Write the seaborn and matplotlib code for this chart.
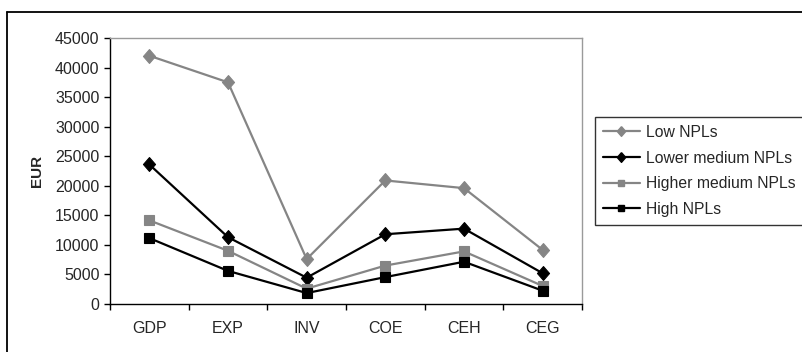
import matplotlib
matplotlib.use("Agg")
import matplotlib.pyplot as plt
from matplotlib.lines import Line2D
from matplotlib.ticker import FixedLocator, NullFormatter
import seaborn as sns
import pandas as pd

categories = ["GDP", "EXP", "INV", "COE", "CEH", "CEG"]
series_names = ["Low NPLs", "Lower medium NPLs", "Higher medium NPLs", "High NPLs"]
low_npls = [42000, 37500, 7600, 20900, 19600, 9150]
lower_medium_npls = [23600, 11300, 4450, 11800, 12750, 5200]
higher_medium_npls = [14150, 9000, 2600, 6500, 8900, 3050]
high_npls = [11150, 5600, 1850, 4550, 7150, 2250]
y_ticks = [0, 5000, 10000, 15000, 20000, 25000, 30000, 35000, 40000, 45000]

GRAY = "#858585"
BLACK = "#000000"
# slightly tall diamond outline
DIAMOND = [(0, 1.15), (1, 0), (0, -1.15), (-1, 0), (0, 1.15)]
colors = {series_names[0]: GRAY, series_names[1]: BLACK,
          series_names[2]: GRAY, series_names[3]: BLACK}
marker_map = {series_names[0]: DIAMOND, series_names[1]: DIAMOND,
              series_names[2]: "s", series_names[3]: "s"}
marker_size = {series_names[0]: 10, series_names[1]: 10,
               series_names[2]: 6.5, series_names[3]: 6.8}

rows = []
for name, vals in zip(series_names,
                      [low_npls, lower_medium_npls, higher_medium_npls, high_npls]):
    for cat, v in zip(categories, vals):
        rows.append({"category": cat, "value": v, "series": name})
df = pd.DataFrame(rows)

sns.set_style("white")
plt.rcParams["font.family"] = ["Liberation Sans", "DejaVu Sans"]

fig = plt.figure(figsize=(8.02, 3.52), dpi=100)
ax = fig.add_axes([110 / 802, 1 - 304 / 352, 472 / 802, 266 / 352])

sns.lineplot(data=df, x="category", y="value", hue="series", style="series",
             hue_order=series_names, style_order=series_names,
             palette=colors, markers=marker_map, dashes=False,
             linewidth=1.6, markeredgewidth=0.8,
             sort=False, legend=False, ax=ax)
for line, name in zip(ax.get_lines(), series_names):
    line.set_markeredgecolor(line.get_color())
    line.set_markersize(marker_size[name])

ax.set_xlim(-0.5, len(categories) - 0.5)
ax.set_ylim(0, 45000)
ax.set_yticks(y_ticks)
ax.set_yticklabels([str(t) for t in y_ticks])
ax.set_xticks(range(len(categories)))
ax.set_xticklabels(categories)
ax.xaxis.set_minor_locator(FixedLocator([i - 0.5 for i in range(len(categories) + 1)]))
ax.xaxis.set_minor_formatter(NullFormatter())
ax.tick_params(axis="x", which="major", length=0, pad=12, labelsize=11.5)
ax.tick_params(axis="x", which="minor", length=4.5, width=1, color="black",
               direction="out", bottom=True)
ax.tick_params(axis="y", which="major", length=4.5, width=1, color="black",
               direction="out", left=True, pad=3, labelsize=11.5)
ax.set_xlabel("")
ax.set_ylabel("EUR", fontsize=11, fontweight="bold", labelpad=8)

for side in ["left", "bottom"]:
    ax.spines[side].set_color("black")
    ax.spines[side].set_linewidth(1.0)
for side in ["top", "right"]:
    ax.spines[side].set_color("#9a9a9a")
    ax.spines[side].set_linewidth(1.0)
ax.grid(False)

# outer chart border (left and top edges visible)
fig.add_artist(Line2D([7 / 802, 7 / 802], [0, 1 - 12 / 352], color="black",
                      linewidth=1.3, transform=fig.transFigure))
fig.add_artist(Line2D([7 / 802, 1], [1 - 12 / 352, 1 - 12 / 352], color="black",
                      linewidth=1.3, transform=fig.transFigure))

handles = [Line2D([0], [0], color=colors[n], marker=marker_map[n], linewidth=1.6,
                  markersize=marker_size[n] * 0.7, markeredgecolor=colors[n])
           for n in series_names]
leg = fig.legend(handles, series_names, loc="upper left",
                 bbox_to_anchor=(595 / 802, 1 - 117 / 352),
                 bbox_transform=fig.transFigure, frameon=True, fancybox=False,
                 fontsize=11.3, handlelength=2.35, handletextpad=0.4,
                 labelspacing=0.68, borderpad=0.5, borderaxespad=0)
leg.get_frame().set_edgecolor("black")
leg.get_frame().set_linewidth(1.0)

fig.savefig("out.png", dpi=100)
